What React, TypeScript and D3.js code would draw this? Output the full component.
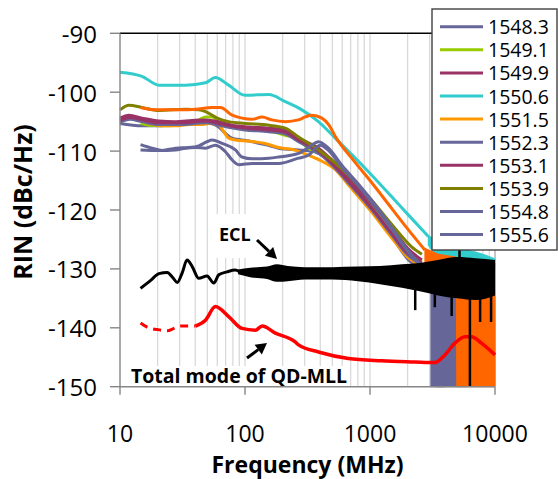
import React from 'react';
import * as d3 from 'd3';

type P = [number, number];
type B = [number, number, number];

const W = 558;
const H = 479;

const xTicks = [10, 100, 1000, 10000];
const yTicks = [-90, -100, -110, -120, -130, -140, -150];

const seriesNames = ['1548.3', '1549.1', '1549.9', '1550.6', '1551.5', '1552.3', '1553.1', '1553.9', '1554.8', '1555.6', '1556.4'];
const seriesColors = ['#666699', '#99CC00', '#993366', '#33CCCC', '#FF9900', '#666699', '#993366', '#808000', '#666699', '#666699', '#FF6600'];
const legendCount = 10;

const s1548_3: P[] = [[10,-105.3],[15,-105.7],[20.5,-105.7],[27.8,-105.5],[35.5,-105.3],[48.3,-105],[54.5,-105.3],[61.7,-105.9],[69.8,-107],[78.8,-107.8],[94.6,-108.1],[107,-108.3],[145,-108.9],[186,-109.5],[268,-109.8],[342,-110],[466,-111.5],[700,-115.5],[1000,-119.5],[1500,-124.5],[2000,-128.3],[2600,-130]];
const s1549_1: P[] = [[14.6,-105.3],[17,-105.6],[25,-105.7],[42.7,-104.7],[48.3,-104.2],[54.5,-104.2],[62,-105.1],[80,-105.8],[100,-106.2],[155,-106.6],[210,-107.3],[268,-108.1],[320,-109.5],[400,-110.3],[494,-111.8],[700,-115],[1000,-118.7],[1500,-123.3],[2000,-126.8],[2600,-128.7]];
const s1549_9: P[] = [[10,-104.4],[11.8,-103.9],[15,-104.4],[20.5,-104.9],[27.8,-105],[37.8,-104.8],[48.3,-104.7],[61.7,-105],[78.8,-105.6],[107,-105.9],[155,-106.1],[210,-106.4],[268,-107.8],[387,-109.5],[494,-111.5],[700,-114.8],[1000,-118.5],[1500,-123],[2000,-126.5],[2600,-128.5]];
const s1550_6: P[] = [[10,-96.6],[15,-97.3],[20.5,-98.8],[33.4,-98.8],[48.3,-98.4],[58,-97.5],[74,-98.8],[100,-100.5],[155,-100.4],[210,-101.6],[285,-103],[387,-105],[527,-107.8],[714,-110.6],[914,-112.9],[1500,-117.8],[2000,-120.7],[2925,-124.5]];
const s1551_5: P[] = [[14.2,-104.7],[17,-105.3],[21.8,-105.7],[27.8,-105.7],[35.5,-105.5],[45.4,-105.5],[51.3,-105.3],[61.7,-105.6],[67.6,-106.7],[74,-107.8],[84,-108.1],[107,-108.3],[145,-108.7],[186,-109.4],[237,-109.7],[322,-110.7],[420,-111.8],[520,-113],[700,-116.2],[1000,-120],[1500,-124.8],[2000,-128],[2600,-129.5]];
const s1552_3: P[] = [[10,-105.1],[12,-104.6],[15,-105],[20,-105.5],[30,-105.5],[48.3,-105.2],[62,-105.6],[80,-106.1],[100,-106.4],[155,-106.7],[210,-107.1],[268,-108.4],[387,-110.3],[494,-112.3],[700,-115.8],[1000,-119.6],[1500,-124.3],[2000,-127.6],[2600,-129.3]];
const s1553_1: P[] = [[10,-104.8],[12,-104.3],[15,-104.7],[20,-105.2],[30,-105.2],[48.3,-104.9],[62,-105.3],[80,-105.8],[100,-106.1],[155,-106.4],[210,-106.8],[268,-108.1],[387,-110],[494,-112],[700,-115.5],[1000,-119.3],[1500,-124],[2000,-127.3],[2600,-129]];
const s1553_9: P[] = [[10,-103],[11.8,-102.2],[15,-102.6],[20.5,-103.1],[33.4,-102.9],[42.7,-103],[48.3,-103.3],[60,-104.4],[74,-105],[100,-105.3],[155,-105.6],[210,-106.1],[268,-107.6],[387,-109.8],[527,-112],[1000,-118],[1500,-122.5],[2140,-126.2],[2600,-127.5]];
const s1554_8: P[] = [[14.6,-108.9],[18.1,-109.5],[21.8,-109.9],[27.8,-109.5],[35.5,-109.4],[42.7,-109.1],[49.7,-108.4],[54.5,-108.1],[65.5,-108.7],[83.8,-109.8],[94.6,-111],[114,-111.3],[155,-111.2],[186,-111],[268,-110.4],[342,-109],[387,-108.4],[466,-109.5],[600,-112.5],[800,-115.5],[1000,-118],[1500,-123],[2000,-126.8],[2600,-129.5]];
const s1555_6: P[] = [[14.6,-109.8],[20.5,-109.9],[27.8,-109.8],[33.4,-109.5],[40.2,-109.4],[48.3,-109.5],[58,-109],[69.8,-110.1],[78.8,-111.5],[89,-112.3],[114,-112.1],[155,-112.1],[186,-112.1],[268,-111.2],[322,-110.7],[400,-109],[450,-109.6],[600,-112.8],[800,-115.8],[1000,-118.3],[1500,-123.3],[2000,-127],[2600,-129.7]];
const s1556_4: P[] = [[14.6,-102.6],[19.3,-103],[31.4,-103],[40.2,-102.9],[54.5,-102.6],[63.6,-102.6],[78.8,-103.9],[94.6,-104.4],[114,-104.6],[137,-104.2],[164,-104.7],[210,-105],[268,-104.7],[303,-104.2],[342,-103.9],[412,-104.4],[470,-105.6],[527,-107.5],[714,-111.2],[1000,-115],[1500,-119.8],[2000,-123.2],[2750,-126.8]];

const seriesData: P[][] = [s1548_3, s1549_1, s1549_9, s1550_6, s1551_5, s1552_3, s1553_1, s1553_9, s1554_8, s1555_6, s1556_4];

// noisy high-frequency parts: [freq, upper, lower]
const band1550_6: B[] = [[2925,-124.3,-126],[3500,-125.3,-128],[4500,-126,-129],[6000,-126.8,-129.5],[8000,-127.5,-129.5],[10000,-128.3,-130]];
const band1555_6: B[] = [[3070,-129,-150],[5880,-129,-150]];
const band1553_1: B[] = [[3390,-138,-150],[3975,-138,-150]];
const band1556_4: B[] = [[2750,-126.5,-129],[3500,-127.5,-131],[4900,-128,-132],[4950,-128.5,-150],[10000,-129,-150]];

const qdName = 'Total mode of QD-MLL';
const qdTotal: P[] = [[14.6,-139.2],[16.5,-139.9],[19.9,-140.3],[23.9,-140.5],[27,-140.1],[30.5,-139.7],[40.2,-139.7],[48.3,-138.7],[58,-136.4],[74,-138.1],[94.6,-140.1],[121,-140.4],[137,-139.7],[175,-140.9],[252,-142.4],[268,-142.9],[387,-144.1],[672,-145.2],[1240,-145.6],[2290,-145.8],[3308,-145.9],[3974,-144.6],[4776,-142.6],[5741,-141.5],[6480,-141.5],[7785,-142.6],[10000,-144.6]];
const qdDashedUntil = 40.2;

const eclName = 'ECL';
const ecl: P[] = [[14.6,-133.3],[17.5,-132],[20.5,-130.8],[23.9,-130.6],[26.5,-131.5],[28.7,-132.3],[31.4,-130.7],[34.4,-128.5],[37.8,-129.6],[42.7,-131.6],[49.7,-131.2],[56.3,-132.4],[61.7,-131],[71.8,-130.5],[83.8,-130.2],[92,-130.6]];
const eclBand: B[] = [[88,-130.1,-130.9],[110,-129.8,-131.4],[150,-129.6,-131.7],[180,-129.2,-132.2],[220,-129.5,-132.1],[300,-129.7,-131.8],[500,-129.7,-131.8],[800,-129.6,-132.1],[1200,-129.5,-132.6],[1800,-129.2,-133.2],[2500,-129,-133.8],[3500,-128.5,-134.5],[5000,-128,-135],[7000,-128.2,-135.3],[10000,-128.5,-134.5]];
const eclSpikes: P[] = [[2300,-137],[3300,-136.5],[4500,-138],[5200,-125.8],[6300,-150],[7600,-139],[9300,-139]];

const xAxisTitle = 'Frequency (MHz)';
const yAxisTitle = 'RIN (dBc/Hz)';

const FONT = "'Open Sans', 'DejaVu Sans', sans-serif";

function arrow(x1: number, y1: number, x2: number, y2: number, head = 11, half = 6) {
  const dx = x2 - x1, dy = y2 - y1;
  const L = Math.hypot(dx, dy);
  const ux = dx / L, uy = dy / L;
  const bx = x2 - ux * head, by = y2 - uy * head;
  const px = -uy, py = ux;
  return (
    <g>
      <line x1={x1} y1={y1} x2={bx} y2={by} stroke="#000" strokeWidth={3} />
      <polygon points={`${x2},${y2} ${bx + px * half},${by + py * half} ${bx - px * half},${by - py * half}`} fill="#000" />
    </g>
  );
}

export default function App() {
  const x = d3.scaleLog().domain([10, 10000]).range([120, 495]);
  const y = d3.scaleLinear().domain([-150, -90]).range([386.7, 33.3]);

  const line = d3.line<P>().x(d => x(d[0])).y(d => y(d[1])).curve(d3.curveMonotoneX);
  const area = d3.area<B>().x(d => x(d[0])).y0(d => y(d[2])).y1(d => y(d[1])).curve(d3.curveMonotoneX);
  const areaLin = d3.area<B>().x(d => x(d[0])).y0(d => y(d[2])).y1(d => y(d[1]));

  const grid: number[] = [];
  [10, 100, 1000].forEach(dec => { for (let k = 2; k <= 9; k++) grid.push(k * dec); });
  grid.push(100, 1000);

  const qdDashed = qdTotal.filter(d => d[0] <= qdDashedUntil);
  const qdSolid = qdTotal.filter(d => d[0] >= qdDashedUntil);

  const bands: { data: B[]; idx: number; lin: boolean }[] = [
    { data: band1550_6, idx: 3, lin: false },
    { data: band1553_1, idx: 6, lin: true },
    { data: band1555_6, idx: 9, lin: true },
    { data: band1556_4, idx: 10, lin: true },
  ];

  const left = x(10), right = x(10000), top = y(-90), bottom = y(-150);
  const legX = 432, legY = 9, legW = 125, legH = 241;

  return (
    <svg width={W} height={H} style={{ position: 'absolute', left: 0, top: 0, background: '#fff' }} fontFamily={FONT}>
      <rect x={0} y={0} width={W} height={H} fill="#fff" />
      {grid.map((g, i) => (
        <line key={i} x1={x(g)} x2={x(g)} y1={top} y2={bottom} stroke="#D9D9D9" strokeWidth={1.3} />
      ))}
      <line x1={right} x2={right} y1={top} y2={bottom} stroke="#A6A6A6" strokeWidth={1.3} />
      <line x1={left} x2={right} y1={top} y2={top} stroke="#000" strokeWidth={1.4} />

      {/* white label boxes */}
      <rect x={214} y={214} width={38} height={44} fill="#fff" />
      <rect x={128} y={366} width={222} height={20} fill="#fff" />

      {/* wavelength series */}
      {seriesData.map((s, i) => {
        const b = bands.filter(bb => bb.idx === i);
        return (
          <g key={seriesNames[i]}>
            {b.map((bb, j) => (
              <path key={j} d={(bb.lin ? areaLin : area)(bb.data) || ''} fill={seriesColors[i]} stroke={seriesColors[i]} strokeWidth={1} />
            ))}
            <path d={line(s) || ''} fill="none" stroke={seriesColors[i]} strokeWidth={3} strokeLinejoin="round" />
          </g>
        );
      })}

      {/* QD-MLL total mode */}
      <g>
        <path d={line(qdDashed) || ''} fill="none" stroke="#FF0000" strokeWidth={3} strokeDasharray="8,6" />
        <path d={line(qdSolid) || ''} fill="none" stroke="#FF0000" strokeWidth={3.5} strokeLinejoin="round" />
      </g>

      {/* ECL */}
      <g>
        <path d={line(ecl) || ''} fill="none" stroke="#000" strokeWidth={3} strokeLinejoin="round" />
        <path d={area(eclBand) || ''} fill="#000" />
        {eclSpikes.map((s, i) => (
          <line key={i} x1={x(s[0])} x2={x(s[0])} y1={y(-131)} y2={y(s[1])} stroke="#000" strokeWidth={2.5} />
        ))}
      </g>

      {/* axes */}
      <line x1={left} x2={left} y1={top} y2={bottom} stroke="#868686" strokeWidth={1.4} />
      <line x1={left} x2={right} y1={bottom} y2={bottom} stroke="#868686" strokeWidth={1.4} />
      {yTicks.map(t => (
        <g key={t}>
          <line x1={left - 10} x2={left} y1={y(t)} y2={y(t)} stroke="#868686" strokeWidth={1.4} />
          <text x={97} y={y(t)} textAnchor="end" dominantBaseline="central" fontSize={24} fill="#000">{t}</text>
        </g>
      ))}
      {xTicks.map(t => (
        <g key={t}>
          <line x1={x(t)} x2={x(t)} y1={bottom} y2={bottom + 8} stroke="#868686" strokeWidth={1.4} />
          <text x={x(t)} y={442} textAnchor="middle" fontSize={23} fill="#000">{t}</text>
        </g>
      ))}
      <text x={(left + right) / 2} y={472.5} textAnchor="middle" fontSize={23} fontWeight="bold" fill="#000">{xAxisTitle}</text>
      <text transform={`translate(32,202) rotate(-90)`} textAnchor="middle" fontSize={25} fontWeight="bold" fill="#000">{yAxisTitle}</text>

      {/* annotations */}
      <text x={219} y={241} fontSize={18} fontWeight="bold" fill="#000">{eclName}</text>
      {arrow(257, 240, 277, 259)}
      <text x={131} y={383} fontSize={19.5} fontWeight="bold" fill="#000">{qdName}</text>
      {arrow(247, 358, 267, 343)}

      {/* legend */}
      <rect x={legX} y={legY} width={legW} height={legH} fill="#fff" stroke="#404040" strokeWidth={1.4} />
      {seriesNames.slice(0, legendCount).map((n, i) => {
        const yy = 26.7 + i * 23.1;
        return (
          <g key={n}>
            <line x1={440} x2={483} y1={yy} y2={yy} stroke={seriesColors[i]} strokeWidth={3} />
            <text x={488} y={yy} dominantBaseline="central" fontSize={19.5} fill="#000">{n}</text>
          </g>
        );
      })}
    </svg>
  );
}
